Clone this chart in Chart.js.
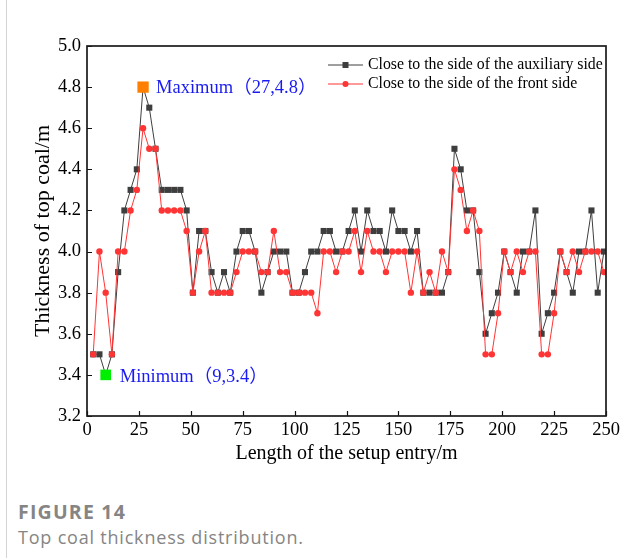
<!DOCTYPE html>
<html><head><meta charset="utf-8">
<script src="https://cdn.jsdelivr.net/npm/chart.js@4.4.1/dist/chart.umd.min.js"></script>
<style>
html,body{margin:0;padding:0;background:#fff;}
body{width:641px;height:558px;position:relative;overflow:hidden;}
#wrap{position:absolute;left:0;top:0;width:641px;height:480px;}
#frame{position:absolute;left:6px;top:0;width:1px;height:558px;background:#d4d4d4;}
#fig{position:absolute;left:18px;top:499px;font-family:'Open Sans','Noto Sans',sans-serif;font-weight:700;font-size:19.5px;letter-spacing:1.2px;color:#858585;line-height:26px;}
#cap{position:absolute;left:18px;top:525px;font-family:'Open Sans','Noto Sans',sans-serif;font-size:18px;letter-spacing:0.8px;color:#858585;line-height:24px;}
</style></head><body>
<div id="frame"></div>
<div id="wrap"><canvas id="c" width="641" height="480"></canvas></div>
<div id="fig">FIGURE 14</div>
<div id="cap">Top coal thickness distribution.</div>
<script>
// Measurement positions along the setup entry (m)
const positions = [3,6,9,12,15,18,21,24,27,30,33,36,39,42,45,48,51,54,57,60,
  63,66,69,72,75,78,81,84,87,90,93,96,99,102,105,108,111,114,117,120,
  123,126,129,132,135,138,141,144,147,150,153,156,159,162,165,168,171,174,177,180,
  183,186,189,192,195,198,201,204,207,210,213,216,219,222,225,228,231,234,237,240,
  243,246,249];
// Close to the side of the auxiliary side
const auxiliarySide = [3.5,3.5,3.4,3.5,3.9,4.2,4.3,4.4,4.8,4.7,4.5,4.3,4.3,4.3,4.3,4.2,3.8,4.1,4.1,3.9,
  3.8,3.9,3.8,4.0,4.1,4.1,4.0,3.8,3.9,4.0,4.0,4.0,3.8,3.8,3.9,4.0,4.0,4.1,4.1,4.0,
  4.0,4.1,4.2,4.0,4.2,4.1,4.1,4.0,4.2,4.1,4.1,4.0,4.1,3.8,3.8,3.8,3.8,3.9,4.5,4.4,
  4.2,4.2,3.9,3.6,3.7,3.8,4.0,3.9,3.8,4.0,4.0,4.2,3.6,3.7,3.8,4.0,3.9,3.8,4.0,4.0,
  4.2,3.8,4.0];
// Close to the side of the front side
const frontSide = [3.5,4.0,3.8,3.5,4.0,4.0,4.2,4.3,4.6,4.5,4.5,4.2,4.2,4.2,4.2,4.1,3.8,4.0,4.1,3.8,
  3.8,3.8,3.8,3.9,4.0,4.0,4.0,3.9,3.9,4.1,3.9,3.9,3.8,3.8,3.8,3.8,3.7,4.0,4.0,3.9,
  4.0,4.0,4.1,3.9,4.1,4.0,4.0,3.9,4.0,4.0,4.0,3.8,4.0,3.8,3.9,3.8,4.0,3.9,4.4,4.3,
  4.1,4.2,4.1,3.5,3.5,3.7,4.0,3.9,4.0,3.9,4.0,4.0,3.5,3.5,3.7,4.0,3.9,4.0,3.9,4.0,
  4.0,4.0,3.9];
const maximumPoint = [27, 4.8];
const minimumPoint = [9, 3.4];
const seriesLabels = ['Close to the side of the auxiliary side', 'Close to the side of the front side'];
const xTickStep = 25, yTickStep = 0.2;

const SERIF = "'Liberation Serif','Times New Roman',serif";
const ANN = "'Liberation Serif','Noto Sans CJK SC',serif";
const GRAY = '#3e3e3e', RED = '#ff3434', BLUE = '#1a1af2';

const frameAndLegend = {
  id: 'frameAndLegend',
  afterDatasetsDraw(chart) {
    const {ctx, chartArea: a, scales: {x, y}} = chart;
    ctx.save();
    // inner ticks
    ctx.strokeStyle = '#111'; ctx.lineWidth = 1.2;
    ctx.beginPath();
    x.ticks.forEach(t => { const px = Math.round(x.getPixelForValue(t.value)) + 0.5; ctx.moveTo(px, a.bottom); ctx.lineTo(px, a.bottom - 5); });
    y.ticks.forEach(t => { const py = Math.round(y.getPixelForValue(t.value)) + 0.5; ctx.moveTo(a.left, py); ctx.lineTo(a.left + 5, py); });
    ctx.stroke();
    // frame
    ctx.lineWidth = 1.7; ctx.strokeStyle = '#1a1a1a';
    ctx.strokeRect(a.left, a.top, a.right - a.left, a.bottom - a.top);
    // legend
    const lx0 = a.right - 278, lx1 = a.right - 243, tx = a.right - 238;
    const rows = [a.top + 19, a.top + 38];
    const cols = [GRAY, RED];
    rows.forEach((ry, i) => {
      ctx.strokeStyle = cols[i]; ctx.lineWidth = 1;
      ctx.beginPath(); ctx.moveTo(lx0, ry); ctx.lineTo(lx1, ry); ctx.stroke();
      ctx.fillStyle = cols[i];
      const cx = (lx0 + lx1) / 2;
      if (i === 0) { ctx.fillRect(cx - 3, ry - 3, 6, 6); }
      else { ctx.beginPath(); ctx.arc(cx, ry, 3, 0, Math.PI * 2); ctx.fill(); }
      ctx.fillStyle = '#000'; ctx.font = '15.8px ' + SERIF; ctx.textBaseline = 'middle'; ctx.textAlign = 'left';
      ctx.fillText(seriesLabels[i], tx, ry);
    });
    // annotations
    ctx.fillStyle = BLUE; ctx.font = '18.5px ' + ANN; ctx.textBaseline = 'middle';
    ctx.fillText('Maximum（' + maximumPoint[0] + ',' + maximumPoint[1].toFixed(1) + '）', x.getPixelForValue(maximumPoint[0]) + 13, y.getPixelForValue(maximumPoint[1]) + 1);
    ctx.fillText('Minimum（' + minimumPoint[0] + ',' + minimumPoint[1].toFixed(1) + '）', x.getPixelForValue(minimumPoint[0]) + 14, y.getPixelForValue(minimumPoint[1]) + 2);
    ctx.restore();
  }
};

new Chart(document.getElementById('c'), {
  type: 'line',
  data: {
    datasets: [
      { type: 'scatter', label: 'Maximum', data: [{x: maximumPoint[0], y: maximumPoint[1]}], pointStyle: 'rect', pointRadius: 8, pointBorderWidth: 0, backgroundColor: '#ff8000', borderColor: '#ff8000', order: 0 },
      { type: 'scatter', label: 'Minimum', data: [{x: minimumPoint[0], y: minimumPoint[1]}], pointStyle: 'rect', pointRadius: 7.5, pointBorderWidth: 0, backgroundColor: '#00ee00', borderColor: '#00ee00', order: 0 },
      { label: seriesLabels[1], data: positions.map((p, i) => ({x: p, y: frontSide[i]})), borderColor: RED, backgroundColor: RED, borderWidth: 1, pointStyle: 'circle', pointRadius: 3.2, pointBorderWidth: 0, tension: 0, order: 1 },
      { label: seriesLabels[0], data: positions.map((p, i) => ({x: p, y: auxiliarySide[i]})), borderColor: GRAY, backgroundColor: GRAY, borderWidth: 1, pointStyle: 'rect', pointRadius: 4.3, pointBorderWidth: 0, tension: 0, order: 2 }
    ]
  },
  options: {
    responsive: false, animation: false, devicePixelRatio: 1,
    layout: { padding: { top: 46, right: 35, left: 0, bottom: 0 } },
    plugins: { legend: { display: false }, tooltip: { enabled: false } },
    scales: {
      x: {
        type: 'linear', min: 0, max: 250,
        ticks: { stepSize: xTickStep, font: { family: SERIF, size: 18.5 }, color: '#000', padding: 3, maxRotation: 0, autoSkip: false },
        grid: { display: false, drawTicks: false }, border: { display: false },
        title: { display: true, text: 'Length of the setup entry/m', font: { family: SERIF, size: 20 }, color: '#000', padding: { top: 0, bottom: 14 } },
        afterFit(s) { s.height = 64; }
      },
      y: {
        min: 3.2, max: 5.0,
        ticks: { stepSize: yTickStep, font: { family: SERIF, size: 18.5 }, color: '#000', padding: 6, callback: v => Number(v).toFixed(1) },
        grid: { display: false, drawTicks: false }, border: { display: false },
        title: { display: true, text: 'Thickness of top coal/m', font: { family: SERIF, size: 22 }, color: '#000', padding: { top: 30, bottom: 0 } },
        afterFit(s) { s.width = 87; }
      }
    }
  },
  plugins: [frameAndLegend]
});
</script>
</body></html>
